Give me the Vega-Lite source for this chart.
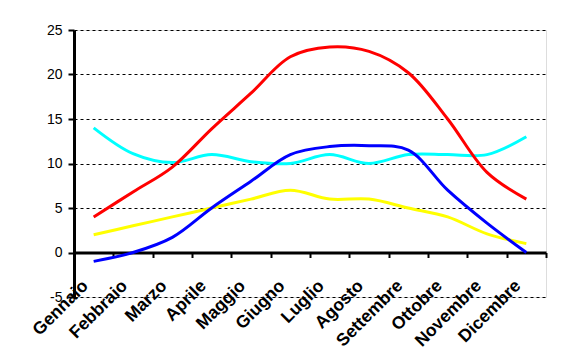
{
  "$schema": "https://vega.github.io/schema/vega-lite/v6.json",
  "width": 472,
  "height": 267,
  "autosize": "none",
  "padding": {"left": 74, "top": 30, "right": 17, "bottom": 65},
  "background": "white",
  "data": {
    "values": [
      {"mese": "Gennaio", "serie": "Serie C", "valore": 14},
      {"mese": "Febbraio", "serie": "Serie C", "valore": 11.1},
      {"mese": "Marzo", "serie": "Serie C", "valore": 10.1},
      {"mese": "Aprile", "serie": "Serie C", "valore": 11},
      {"mese": "Maggio", "serie": "Serie C", "valore": 10.2},
      {"mese": "Giugno", "serie": "Serie C", "valore": 10},
      {"mese": "Luglio", "serie": "Serie C", "valore": 11},
      {"mese": "Agosto", "serie": "Serie C", "valore": 10},
      {"mese": "Settembre", "serie": "Serie C", "valore": 11},
      {"mese": "Ottobre", "serie": "Serie C", "valore": 11},
      {"mese": "Novembre", "serie": "Serie C", "valore": 11},
      {"mese": "Dicembre", "serie": "Serie C", "valore": 13},
      {"mese": "Gennaio", "serie": "Serie D", "valore": 2},
      {"mese": "Febbraio", "serie": "Serie D", "valore": 3},
      {"mese": "Marzo", "serie": "Serie D", "valore": 4},
      {"mese": "Aprile", "serie": "Serie D", "valore": 5},
      {"mese": "Maggio", "serie": "Serie D", "valore": 6},
      {"mese": "Giugno", "serie": "Serie D", "valore": 7},
      {"mese": "Luglio", "serie": "Serie D", "valore": 6},
      {"mese": "Agosto", "serie": "Serie D", "valore": 6},
      {"mese": "Settembre", "serie": "Serie D", "valore": 5},
      {"mese": "Ottobre", "serie": "Serie D", "valore": 4},
      {"mese": "Novembre", "serie": "Serie D", "valore": 2.1},
      {"mese": "Dicembre", "serie": "Serie D", "valore": 1},
      {"mese": "Gennaio", "serie": "Serie B", "valore": -1},
      {"mese": "Febbraio", "serie": "Serie B", "valore": 0},
      {"mese": "Marzo", "serie": "Serie B", "valore": 1.7},
      {"mese": "Aprile", "serie": "Serie B", "valore": 5},
      {"mese": "Maggio", "serie": "Serie B", "valore": 8},
      {"mese": "Giugno", "serie": "Serie B", "valore": 11},
      {"mese": "Luglio", "serie": "Serie B", "valore": 11.9},
      {"mese": "Agosto", "serie": "Serie B", "valore": 12},
      {"mese": "Settembre", "serie": "Serie B", "valore": 11.5},
      {"mese": "Ottobre", "serie": "Serie B", "valore": 7},
      {"mese": "Novembre", "serie": "Serie B", "valore": 3.3},
      {"mese": "Dicembre", "serie": "Serie B", "valore": 0},
      {"mese": "Gennaio", "serie": "Serie A", "valore": 4},
      {"mese": "Febbraio", "serie": "Serie A", "valore": 6.8},
      {"mese": "Marzo", "serie": "Serie A", "valore": 9.6},
      {"mese": "Aprile", "serie": "Serie A", "valore": 13.9},
      {"mese": "Maggio", "serie": "Serie A", "valore": 17.9},
      {"mese": "Giugno", "serie": "Serie A", "valore": 22},
      {"mese": "Luglio", "serie": "Serie A", "valore": 23.1},
      {"mese": "Agosto", "serie": "Serie A", "valore": 22.6},
      {"mese": "Settembre", "serie": "Serie A", "valore": 20.2},
      {"mese": "Ottobre", "serie": "Serie A", "valore": 15},
      {"mese": "Novembre", "serie": "Serie A", "valore": 9},
      {"mese": "Dicembre", "serie": "Serie A", "valore": 6}
    ]
  },
  "mark": {"type": "line", "interpolate": "catmull-rom", "strokeWidth": 3},
  "encoding": {
    "x": {
      "field": "mese",
      "type": "nominal",
      "sort": ["Gennaio", "Febbraio", "Marzo", "Aprile", "Maggio", "Giugno", "Luglio", "Agosto", "Settembre", "Ottobre", "Novembre", "Dicembre"],
      "bandPosition": 0.5,
      "scale": {"type": "band", "paddingInner": 0, "paddingOuter": 0},
      "axis": {
        "title": null,
        "orient": "bottom",
        "offset": -44.5,
        "grid": false,
        "labelAngle": -45,
        "labelFont": "Liberation Sans",
        "labelFontWeight": "bold",
        "labelFontSize": 17.5,
        "labelColor": "black",
        "labelPadding": 19,
        "labelOffset": -15,
        "domainColor": "black",
        "domainWidth": 3,
        "tickColor": "black",
        "tickWidth": 2,
        "tickSize": 5,
        "tickBand": "extent"
      }
    },
    "y": {
      "field": "valore",
      "type": "quantitative",
      "scale": {"domain": [-5, 25], "nice": false, "zero": false},
      "axis": {
        "title": null,
        "values": [-5, 0, 5, 10, 15, 20, 25],
        "labelExpr": "'' + datum.value",
        "grid": true,
        "gridDash": [3, 3],
        "gridColor": "black",
        "gridWidth": 1,
        "gridOpacity": 1,
        "domainColor": "black",
        "domainWidth": 3,
        "tickColor": "black",
        "tickWidth": 2,
        "tickSize": 6,
        "labelFont": "Liberation Sans",
        "labelFontSize": 14,
        "labelColor": "black",
        "labelPadding": 6
      }
    },
    "color": {
      "field": "serie",
      "type": "nominal",
      "scale": {"domain": ["Serie C", "Serie D", "Serie B", "Serie A"], "range": ["#00FFFF", "#FFFF00", "#0000FF", "#FF0000"]},
      "legend": null
    }
  }
}
